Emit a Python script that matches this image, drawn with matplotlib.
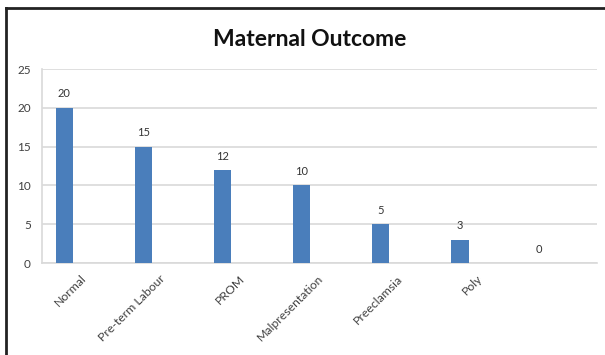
import matplotlib
matplotlib.use('Agg')
from matplotlib import pyplot as plt
from matplotlib.lines import Line2D

categories = ['Normal', 'Pre-term Labour', 'PROM', 'Malpresentation',
              'Preeclamsia', 'Poly', '']
values = [20, 15, 12, 10, 5, 3, 0]
yticks = [0, 5, 10, 15, 20, 25]

plt.rcParams['font.family'] = ['Lato', 'DejaVu Sans']

fig = plt.figure(figsize=(6.05, 3.55), dpi=100)
ax = fig.add_axes([42 / 605, 1 - 263 / 355, 555 / 605, 194 / 355])

x = list(range(len(categories)))
ax.bar(x, values, width=0.215, color='#4a7ebb', zorder=3)
for xi, v in zip(x, values):
    ax.annotate(str(v), (xi, v), xytext=(0, 6), textcoords='offset points',
                ha='center', va='bottom', fontsize=8, color='#333333')

ax.set_xlim(-0.278, 6.73)
ax.set_ylim(0, 25)
ax.set_yticks(yticks)
ax.set_xticks(x)
ax.set_xticklabels([])
# rotated category labels, anchored just right of each bar
for xi, lab in zip(x, categories):
    ax.annotate(lab, (xi, 0), xycoords=('data', 'axes fraction'),
                xytext=(14.5, -10), textcoords='offset points',
                rotation=45, rotation_mode='anchor', ha='right', va='center',
                fontsize=8.8, color='#404040')
ax.tick_params(axis='y', labelsize=8.5, colors='#404040', length=0, pad=8)
ax.tick_params(axis='x', length=0)
ax.yaxis.grid(True, color='#d9d9d9', linewidth=1.2, zorder=0)
for s in ['top', 'right', 'bottom', 'left']:
    ax.spines[s].set_color('#d9d9d9')
    ax.spines[s].set_linewidth(1.2)
ax.spines['right'].set_visible(False)
ax.spines['top'].set_visible(False)

fig.text(0.512, 0.888, 'Maternal Outcome', ha='center', va='center',
         fontsize=16.5, fontweight='bold', color='#111111')

# outer frame (top and left edges only)
fig.add_artist(Line2D([6 / 605, 1], [1 - 8 / 355, 1 - 8 / 355], color='#222222', linewidth=2))
fig.add_artist(Line2D([6 / 605, 6 / 605], [0, 1 - 8 / 355], color='#222222', linewidth=2))

fig.savefig('out.png', dpi=100)
